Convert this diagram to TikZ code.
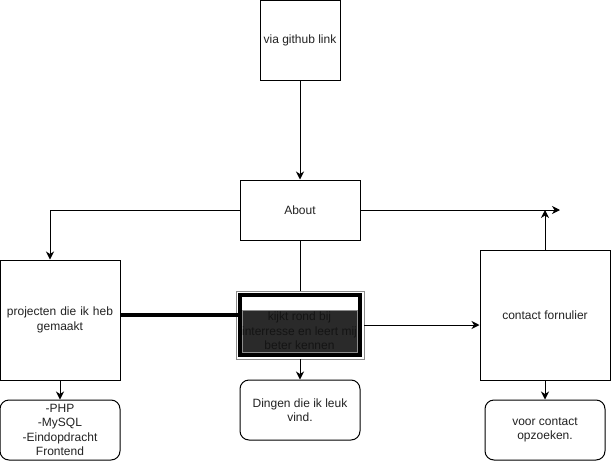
\documentclass[tikz,border=0pt]{standalone}
\usepackage{fontspec}
\setmainfont{Liberation Sans}
\usetikzlibrary{arrows.meta}
\definecolor{txt}{HTML}{222222}
\definecolor{labelbg}{HTML}{2A2A2A}
\definecolor{labeltxt}{HTML}{141414}
\definecolor{edge}{HTML}{8C8C8C}
\tikzset{
  every node/.style={font=\fontsize{12}{14.5}\selectfont, text=txt, align=center},
  box/.style={draw=black, line width=1pt, fill=white, inner sep=2pt},
  roundbox/.style={box, rounded corners=9pt},
  link/.style={draw=black, line width=1pt},
  arr/.style={link, -{Stealth[length=8pt,width=8pt,inset=2.5pt]}},
  heavy/.style={draw=black, line width=4pt},
}
\begin{document}
\begin{tikzpicture}[x=1pt, y=-1pt]
  \useasboundingbox (0,0) rectangle (611,461);

  % boxes
  \node[box, minimum width=80pt, minimum height=80pt] (github) at (300,40) {via github link};
  \node[box, minimum width=120pt, minimum height=60pt] (about) at (300,210) {About};
  \node[box, minimum width=120pt, minimum height=120pt, text width=114pt] (proj) at (60,320) {projecten die ik heb\\gemaakt};
  \node[box, minimum width=130pt, minimum height=130pt] (contact) at (545,315) {contact fornulier};
  \node[roundbox, minimum width=120pt, minimum height=60pt] (php) at (60,430) {-PHP\\-MySQL\\-Eindopdracht\\Frontend};
  \node[roundbox, minimum width=120pt, minimum height=60pt] (dingen) at (300,410) {Dingen die ik leuk\\vind.};
  \node[roundbox, minimum width=120pt, minimum height=60pt] (voor) at (545,430) {voor contact\\opzoeken.};

  % highlighted box: thick border, grey rim, dark label band
  \node[draw=black, line width=4pt, fill=white, minimum width=120pt, minimum height=60pt] (kijkt) at (300,325) {};
  \draw[edge, line width=0.6pt] ([xshift=-2.2pt,yshift=2.2pt]kijkt.north west) rectangle ([xshift=2.2pt,yshift=-2.2pt]kijkt.south east);
  \node[fill=labelbg, draw=edge, line width=0.6pt, minimum width=114pt, minimum height=42pt, inner sep=0pt, text=labeltxt] (kijkttxt) at (299.5,331) {kijkt rond bij\\interresse en leert mij\\beter kennen};

  % free ends of the open arrows
  \coordinate (rightend) at (560,210);

  % connectors
  \draw[arr] (github) -- (about);
  \draw[arr] (about.west) -| ([xshift=-10pt]proj.north);
  \draw[arr] (about.east) -- (rightend);
  \draw[arr] (contact.north) -- (contact.north |- rightend);
  \draw[link] (about.south) -- ([yshift=2pt]kijkt.north);
  \draw[heavy] ([yshift=5pt]proj.east) -- ([yshift=5pt]proj.east -| kijkt.west);
  \draw[arr] ([yshift=-2pt]kijkt.south) -- (dingen.north);
  \draw[arr] ([xshift=2pt]kijkt.east) -- (kijkt.east -| contact.west);
  \draw[arr] (proj.south) -- (php.north);
  \draw[arr] (contact.south) -- (voor.north);
\end{tikzpicture}
\end{document}
